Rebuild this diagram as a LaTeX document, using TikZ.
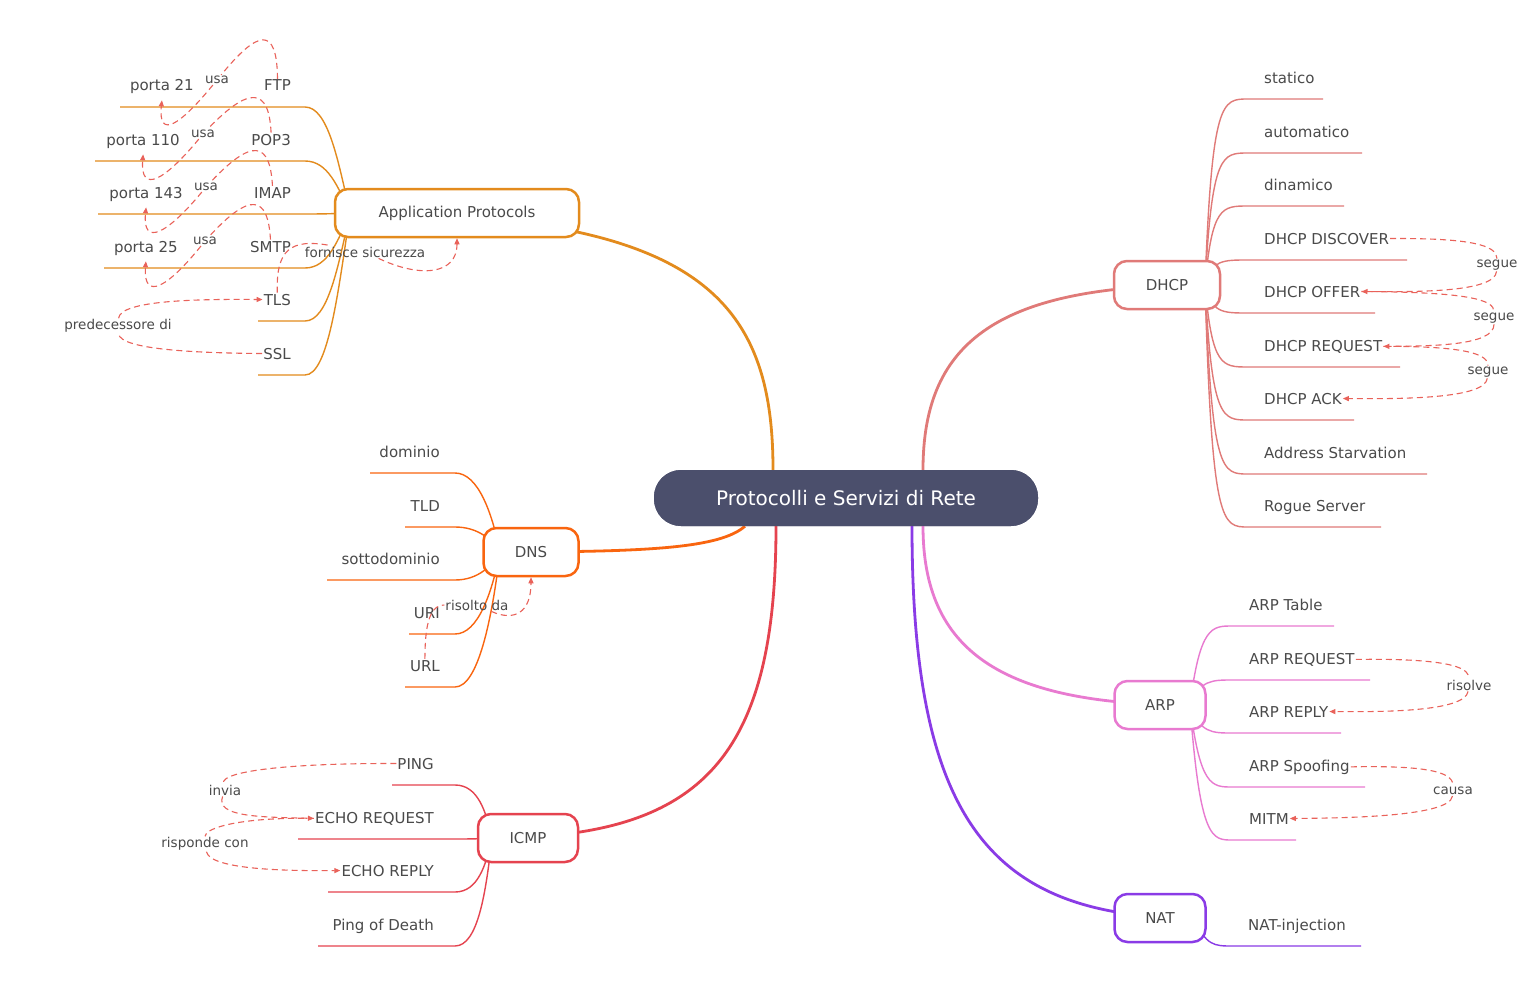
\documentclass[tikz,border=0pt]{standalone}
\usepackage{fontspec}
\setmainfont{DejaVu Sans}
\usetikzlibrary{arrows.meta,positioning}
\definecolor{appc}{HTML}{E38B1D}
\definecolor{dnsc}{HTML}{F9650F}
\definecolor{icmpc}{HTML}{E5434F}
\definecolor{dhcpc}{HTML}{E07A78}
\definecolor{arpc}{HTML}{E87AD0}
\definecolor{natc}{HTML}{8A3BE6}
\definecolor{relc}{HTML}{E9625A}
\definecolor{txtc}{HTML}{4A4A4A}
\definecolor{rootc}{HTML}{4B4F6C}
\tikzset{>={Triangle[length=6pt,width=5pt]}}
\tikzset{
    root/.style={rectangle,rounded corners=27pt,fill=rootc,text=white,minimum width=384pt,minimum height=56pt,font=\fontsize{20}{24}\selectfont},
    topic/.style={rectangle,rounded corners=13pt,draw=#1,line width=2.5pt,fill=white,text=txtc,minimum height=48pt,font=\fontsize{15}{18}\selectfont},
    branch/.style={line width=2.8pt,#1},
    leafline/.style={line width=1.4pt,#1},
    leaf/.style={text=txtc,inner sep=1pt,font=\fontsize{15}{18}\selectfont},
    rel/.style={relc,line width=1.1pt,dash pattern=on 6pt off 4pt},
    rellabel/.style={text=txtc,inner sep=1pt,font=\fontsize{13.5}{16}\selectfont},
}
\begin{document}
\begin{tikzpicture}[x=1pt,y=-1pt]
	\useasboundingbox (0,0) rectangle (1523,998);
	\fill[white] (0,0) rectangle (1523,998);

	% main topics
	\node[root] (root) at (846,498) {Protocolli e Servizi di Rete};
	\coordinate (appS) at (350,213);
	\coordinate (dnsS) at (500,552);
	\coordinate (icmpS) at (492,838);
	\coordinate (dhcpS) at (1205,285);
	\coordinate (arpS) at (1190,705);
	\coordinate (natS) at (1195,918);

	% leaves on the right
	\foreach \n/\t/\y/\xe in {stat/statico/99/1323, auto/automatico/153/1362, dina/dinamico/206/1344, disc/DHCP DISCOVER/260/1407, offer/DHCP OFFER/313/1375, req/DHCP REQUEST/367/1400, ack/DHCP ACK/420/1354, starv/Address Starvation/474/1427, rogue/Rogue Server/527/1381} {
		\draw[leafline=dhcpc] (dhcpS) .. controls (1212,\y) and (1222,\y) .. (1248,\y) -- (\xe,\y);
		\node[leaf,anchor=base west] (\n) at (1263,\y-16) {\t};
	}
	\foreach \n/\t/\y/\xe in {tab/ARP Table/626/1334, areq/ARP REQUEST/680/1370, arep/ARP REPLY/733/1341, spoof/ARP Spoofing/787/1365, mitm/MITM/840/1296} {
		\draw[leafline=arpc] (arpS) .. controls (1200,\y) and (1212,\y) .. (1232,\y) -- (\xe,\y);
		\node[leaf,anchor=base west] (\n) at (1248,\y-16) {\t};
	}
	\draw[leafline=natc] (natS) .. controls (1205,946) and (1215,946) .. (1232,946) -- (1361,946);
	\node[leaf,anchor=base west] (inj) at (1247,930) {NAT-injection};

	% leaves on the left
	\foreach \n/\t/\y/\xs in {dom/dominio/473/370, tld/TLD/527/405, sub/sottodominio/580/327, uri/URI/634/409, url/URL/687/405} {
		\draw[leafline=dnsc] (\xs,\y) -- (455,\y) .. controls (478,\y) and (492,{(\y+552)/2}) .. (dnsS);
		\node[leaf,anchor=base east] (\n) at (441,\y-16) {\t};
	}
	\foreach \n/\t/\y/\xs in {ping/PING/785/392, ereq/ECHO REQUEST/839/298, erep/ECHO REPLY/892/328, pod/Ping of Death/946/318} {
		\draw[leafline=icmpc] (\xs,\y) -- (455,\y) .. controls (478,\y) and (486,{(\y+838)/2}) .. (icmpS);
		\node[leaf,anchor=base east] (\n) at (435,\y-16) {\t};
	}
	\foreach \n/\t/\y/\xs in {ftp/FTP/107/120, pop3/POP3/161/95, imap/IMAP/214/98, smtp/SMTP/268/104, tls/TLS/321/258, ssl/SSL/375/258} {
		\draw[leafline=appc] (\xs,\y) -- (305,\y) .. controls (328,\y) and (338,{(\y+213)/2}) .. (appS);
		\node[leaf,anchor=base east] (\n) at (292,\y-16) {\t};
	}
	\node[leaf,anchor=base east] (p21) at (195,91) {porta 21};
	\node[leaf,anchor=base east] (p110) at (181,145) {porta 110};
	\node[leaf,anchor=base east] (p143) at (184,198) {porta 143};
	\node[leaf,anchor=base east] (p25) at (179,252) {porta 25};

	% branches
	\draw[branch=appc] ([xshift=-73pt]root.north) .. controls (773,300) and (700,213) .. (appS);
	\draw[branch=dnsc] ([xshift=-101pt]root.south) .. controls (720,548) and (650,552) .. (dnsS);
	\draw[branch=icmpc] ([xshift=-70pt]root.south) .. controls (776,760) and (700,838) .. (icmpS);
	\draw[branch=dhcpc] ([xshift=77pt]root.north) .. controls (923,340) and (1000,285) .. (dhcpS);
	\draw[branch=arpc] ([xshift=77pt]root.south) .. controls (923,650) and (1000,705) .. (arpS);
	\draw[branch=natc] ([xshift=66pt]root.south) .. controls (912,820) and (990,918) .. (natS);
	\node[root] at (root) {Protocolli e Servizi di Rete};

	\node[topic=appc,minimum width=244pt] (app) at (457,213) {Application Protocols};
	\node[topic=dnsc,minimum width=95pt] (dns) at (531,552) {DNS};
	\node[topic=icmpc,minimum width=100pt] (icmp) at (528,838) {ICMP};
	\node[topic=dhcpc,minimum width=106pt] (dhcp) at (1167,285) {DHCP};
	\node[topic=arpc,minimum width=91pt] (arp) at (1160,705) {ARP};
	\node[topic=natc,minimum width=91pt] (nat) at (1160,918) {NAT};

	% relations
	\node[rellabel] (usa1) at (217,80) {usa};
	\node[rellabel] (usa2) at (203,134) {usa};
	\node[rellabel] (usa3) at (206,187) {usa};
	\node[rellabel] (usa4) at (205,241) {usa};
	\draw[rel] (ftp.north) .. controls (277,25) and (258,30) .. (usa1);
	\draw[rel,->] (usa1) .. controls (180,125) and (158,140) .. ([yshift=-5pt]p21.south);
	\draw[rel] (pop3.north) .. controls (269,88) and (250,85) .. (usa2);
	\draw[rel,->] (usa2) .. controls (165,180) and (140,195) .. ([yshift=-5pt]p110.south);
	\draw[rel] (imap.north) .. controls (270,141) and (252,138) .. (usa3);
	\draw[rel,->] (usa3) .. controls (168,233) and (142,248) .. ([yshift=-5pt]p143.south);
	\draw[rel] (smtp.north) .. controls (268,195) and (250,192) .. (usa4);
	\draw[rel,->] (usa4) .. controls (168,287) and (143,302) .. ([yshift=-5pt]p25.south);
	\node[rellabel] (fs) at (365,252) {fornisce sicurezza};
	\draw[rel] (tls.north) .. controls (276,250) and (290,238) .. (fs);
	\draw[rel,->] (fs) .. controls (420,278) and (457,275) .. (app.south);
	\node[rellabel] (pd) at (118,326) {predecessore di};
	\draw[rel] (ssl.west) .. controls (200,353) and (120,350) .. (pd);
	\draw[rel,->] (pd) .. controls (120,300) and (200,299) .. (tls.west);
	\node[rellabel] (rd) at (477,605) {risolto da};
	\draw[rel] (url.north) .. controls (425,630) and (428,605) .. (rd);
	\draw[rel,->] (rd) .. controls (515,622) and (531,612) .. (dns.south);
	\node[rellabel] (invia) at (225,790) {invia};
	\draw[rel] (ping.west) .. controls (300,763) and (220,770) .. (invia);
	\draw[rel,->] (invia) .. controls (215,817) and (260,817) .. (ereq.west);
	\node[rellabel] (rc) at (205,844) {risponde con};
	\draw[rel] (ereq.west) .. controls (240,817) and (205,828) .. (rc);
	\draw[rel,->] (rc) .. controls (210,870) and (290,871) .. (erep.west);
	\node[rellabel] (s1) at (1497,265) {segue};
	\node[rellabel] (s2) at (1494,318) {segue};
	\node[rellabel] (s3) at (1488,372) {segue};
	\draw[rel] (disc.east) .. controls (1470,238) and (1497,245) .. (s1);
	\draw[rel,->] (s1) .. controls (1495,292) and (1420,292) .. (offer.east);
	\draw[rel] (offer.east) .. controls (1470,292) and (1494,300) .. (s2);
	\draw[rel,->] (s2) .. controls (1494,346) and (1430,346) .. (req.east);
	\draw[rel] (req.east) .. controls (1470,346) and (1488,355) .. (s3);
	\draw[rel,->] (s3) .. controls (1485,399) and (1400,399) .. (ack.east);
	\node[rellabel] (rs) at (1469,685) {risolve};
	\draw[rel] (areq.east) .. controls (1460,658) and (1469,670) .. (rs);
	\draw[rel,->] (rs) .. controls (1465,712) and (1380,712) .. (arep.east);
	\node[rellabel] (cz) at (1453,791) {causa};
	\draw[rel] (spoof.east) .. controls (1440,765) and (1453,775) .. (cz);
	\draw[rel,->] (cz) .. controls (1450,818) and (1330,818) .. (mitm.east);
\end{tikzpicture}
\end{document}
